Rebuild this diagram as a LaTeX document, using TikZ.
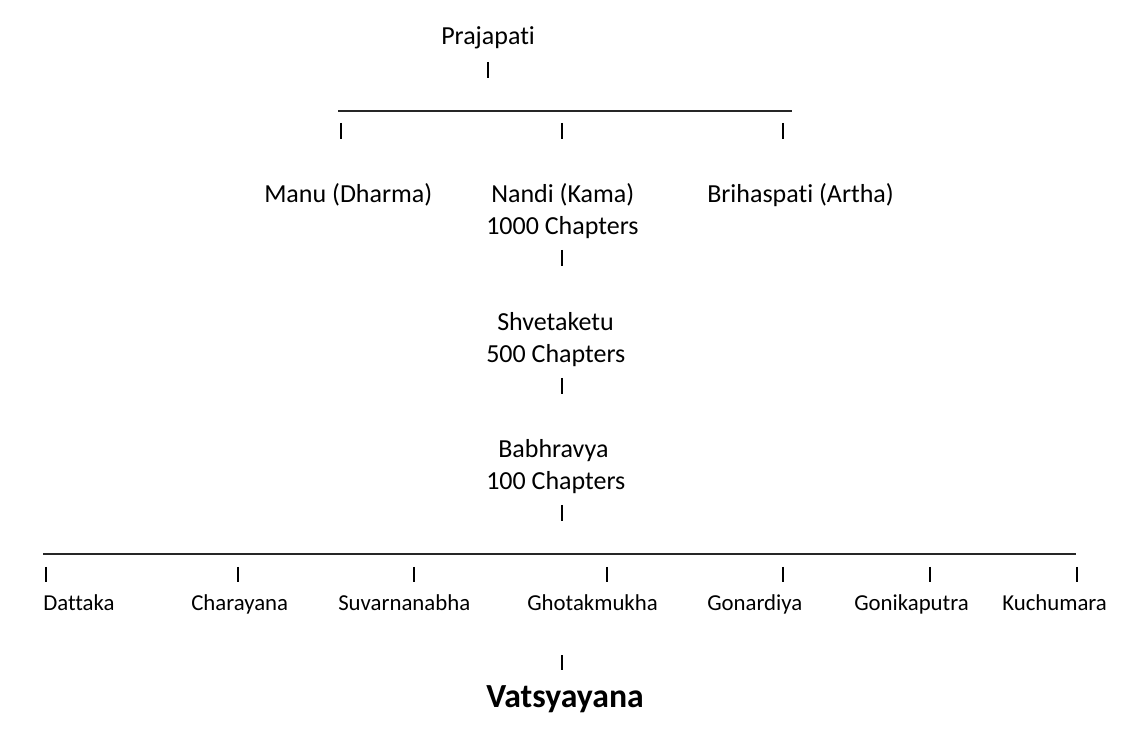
\documentclass[tikz,border=0pt]{standalone}
\usepackage{fontspec}
\setmainfont[Ligatures={NoCommon}]{Carlito}
\begin{document}
\begin{tikzpicture}[x=0.75pt,y=0.75pt,
  lbl/.style={anchor=base west,inner sep=0pt,font=\fontsize{19.5}{23}\selectfont},
  sm/.style={anchor=base west,inner sep=0pt,font=\fontsize{17.1}{20}\selectfont},
  big/.style={anchor=base west,inner sep=0pt,font=\bfseries\fontsize{25.3}{29}\selectfont},
  bar/.style={line width=1.6pt},
  hl/.style={line width=1.1pt,black!85}]
\useasboundingbox[fill=white] (0,0) rectangle (1132,-730);
% texts
\node[lbl] (praj) at (441,-45) {Prajapati};
\node[lbl] (manu) at (264,-203) {Manu (Dharma)};
\node[lbl] (nandi) at (491,-203) {Nandi (Kama)};
\node[lbl] (nandic) at (486,-235) {1000 Chapters};
\node[lbl] (briha) at (707,-203) {Brihaspati (Artha)};
\node[lbl] (shve) at (497,-331) {Shvetaketu};
\node[lbl] (shvec) at (486,-363) {500 Chapters};
\node[lbl] (babh) at (498,-458) {Babhravya};
\node[lbl] (babhc) at (486,-490) {100 Chapters};
\node[sm] (datt) at (43,-610) {Dattaka};
\node[sm] (chara) at (191,-610) {Charayana};
\node[sm] (suva) at (338,-610) {Suvarnanabha};
\node[sm] (ghot) at (527,-610) {Ghotakmukha};
\node[sm] (gona) at (707,-610) {Gonardiya};
\node[sm] (goni) at (854,-610) {Gonikaputra};
\node[sm] (kuch) at (1002,-610) {Kuchumara};
\node[big] (vats) at (486,-707) {Vatsyayana};
% horizontal rules
\coordinate (t1) at (338,-111); \coordinate (t2) at (792,-111);
\draw[hl] (t1) -- (t2);
\coordinate (b1) at (43,-554); \coordinate (b2) at (1076,-554);
\draw[hl] (b1) -- (b2);
% bars
\foreach \x/\ya/\yb in {488/62/78, 341/123/139, 562/123/139, 783/123/139,
  562/250/266, 562/378/394, 562/505/521,
  46/567/582, 238/567/582, 414/567/582, 607/567/582, 783/567/582, 930/567/582, 1077/567/582,
  562/655/670}
  {\coordinate (u) at (\x,-\ya); \coordinate (d) at (\x,-\yb); \draw[bar] (u) -- (d);}
\end{tikzpicture}
\end{document}
